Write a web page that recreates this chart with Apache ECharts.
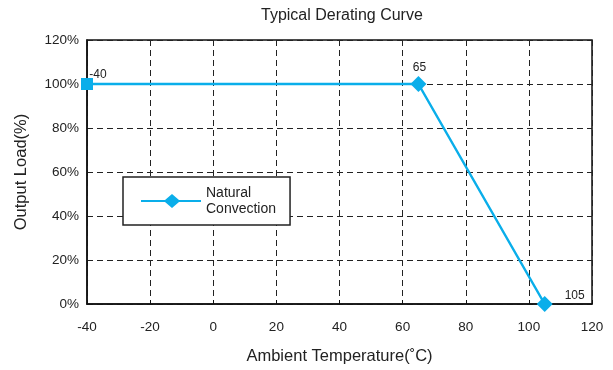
<!DOCTYPE html>
<html><head><meta charset="utf-8">
<script src="https://cdn.jsdelivr.net/npm/echarts@6/dist/echarts.min.js"></script>
<style>html,body{margin:0;padding:0;background:#fff}#c{width:613px;height:370px}</style>
</head><body><div id="c"></div>
<script>
const temps = [-40, 65, 105];
const loads = [100, 100, 0];
const pointLabels = ['-40', '65', '105'];
const xTicks = [-40, -20, 0, 20, 40, 60, 80, 100, 120];
const yTicks = [0, 20, 40, 60, 80, 100, 120];
const seriesName = 'Natural\nConvection';

const color = '#0aaeea';
const font = 'Liberation Sans, Arial, sans-serif';
const labelPos = [[11, 8], [1, 3], [30, 11]];
const data = temps.map((t, i) => ({
  value: [t, loads[i]],
  symbol: i === 0 ? 'rect' : 'diamond',
  symbolSize: i === 0 ? 12 : 16,
  label: {
    show: true, formatter: pointLabels[i], position: 'top',
    offset: labelPos[i], fontSize: 12, color: '#222', fontFamily: font
  }
}));

const chart = echarts.init(document.getElementById('c'));
chart.setOption({
  animation: false,
  textStyle: { fontFamily: font },
  title: {
    text: 'Typical Derating Curve', left: 256, top: 3,
    textStyle: { fontSize: 16, fontWeight: 'normal', color: '#222', fontFamily: font }
  },
  grid: { left: 87, right: 21, top: 40, bottom: 66, show: true, borderColor: '#111', borderWidth: 1.5 },
  legend: {
    left: 123, top: 177, width: 168, height: 47,
    padding: [8, 14, 8, 18],
    borderColor: '#222', borderWidth: 1.5, backgroundColor: '#fff',
    itemWidth: 60, itemHeight: 14, itemGap: 4,
    textStyle: { fontSize: 14, color: '#222', fontFamily: font, lineHeight: 16 },
    data: [{ name: seriesName, icon: 'path://M0,6 L24,6 L31,0 L38,6 L60,6 L60,8 L38,8 L31,14 L24,8 L0,8 Z' }]
  },
  xAxis: {
    type: 'value', min: xTicks[0], max: xTicks[xTicks.length - 1], interval: 20,
    name: 'Ambient Temperature(˚C)', nameLocation: 'middle', nameGap: 44,
    nameTextStyle: { fontSize: 16.5, color: '#222', fontFamily: font },
    axisLine: { lineStyle: { color: '#111', width: 1.5 } },
    axisTick: { show: true, inside: true, length: 4, lineStyle: { color: '#111' } },
    axisLabel: { fontSize: 13.5, color: '#222', margin: 16, fontFamily: font },
    splitLine: { show: true, lineStyle: { color: '#222', type: [6, 4], width: 1 } }
  },
  yAxis: {
    type: 'value', min: yTicks[0], max: yTicks[yTicks.length - 1], interval: 20,
    name: 'Output Load(%)', nameLocation: 'middle', nameGap: 57, nameRotate: 90,
    nameTextStyle: { fontSize: 16.5, color: '#222', fontFamily: font },
    axisLine: { show: true, onZero: false, lineStyle: { color: '#111', width: 1.5 } },
    axisTick: { show: false },
    axisLabel: { fontSize: 13.5, color: '#222', formatter: '{value}%', margin: 8, fontFamily: font },
    splitLine: { show: true, lineStyle: { color: '#222', type: [6, 4], width: 1 } }
  },
  series: [{
    name: seriesName, type: 'line', data: data,
    symbol: 'diamond', symbolSize: 16,
    lineStyle: { color: color, width: 2.5 },
    itemStyle: { color: color },
    z: 5
  }]
});
</script></body></html>
